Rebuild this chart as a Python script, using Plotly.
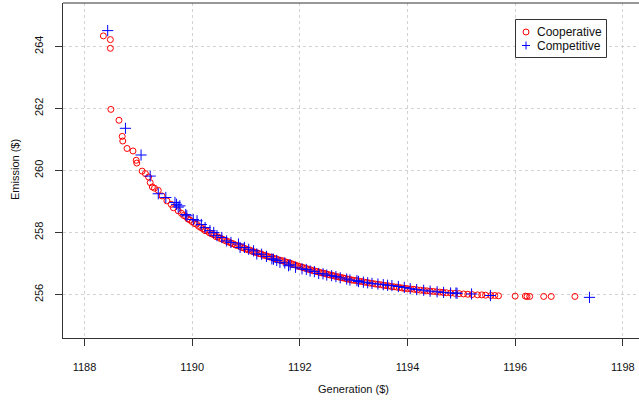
import plotly.graph_objects as go

# ---------------- data ----------------
coop_x = [1188.35, 1188.48, 1188.48, 1188.49, 1188.64, 1188.70, 1188.71, 1188.79, 1188.90, 1188.96,
          1188.97, 1189.07, 1189.13, 1189.19, 1189.22, 1189.26, 1189.30, 1189.37, 1189.44, 1189.53,
          1189.61, 1189.65, 1189.74,
          1189.80, 1189.84, 1189.88, 1189.92, 1189.96, 1190.00, 1190.04, 1190.08, 1190.12, 1190.16,
          1190.20, 1190.24, 1190.28, 1190.32, 1190.36, 1190.40, 1190.44, 1190.48, 1190.52, 1190.56,
          1190.60, 1190.64, 1190.68, 1190.72, 1190.76, 1190.80, 1190.84, 1190.88, 1190.92, 1190.96,
          1191.00, 1191.04, 1191.08, 1191.12, 1191.16, 1191.20, 1191.24, 1191.28, 1191.32, 1191.36,
          1191.40, 1191.44, 1191.48, 1191.52, 1191.56, 1191.60, 1191.64, 1191.68, 1191.72, 1191.76,
          1191.80, 1191.84, 1191.88, 1191.92, 1191.96, 1192.00, 1192.04, 1192.08, 1192.12, 1192.16,
          1192.20, 1192.24, 1192.28, 1192.32, 1192.36, 1192.40, 1192.44, 1192.48, 1192.52, 1192.56,
          1192.60, 1192.64, 1192.68, 1192.72, 1192.76, 1192.80, 1192.84, 1192.88, 1192.92, 1192.96,
          1193.00, 1193.05, 1193.10, 1193.15, 1193.20, 1193.25, 1193.30, 1193.35, 1193.40, 1193.45,
          1193.50, 1193.55, 1193.60, 1193.65, 1193.70, 1193.75, 1193.80, 1193.85, 1193.90, 1193.95,
          1194.00, 1194.06, 1194.12, 1194.18, 1194.24, 1194.30, 1194.36, 1194.42, 1194.48, 1194.54,
          1194.60, 1194.66, 1194.72, 1194.80, 1194.88, 1194.96, 1195.04, 1195.12, 1195.20, 1195.30,
          1195.38, 1195.45, 1195.55, 1195.62, 1195.69, 1196.00, 1196.19, 1196.22, 1196.27, 1196.53,
          1196.67, 1197.11]
coop_y = [264.34, 264.22, 263.94, 261.97, 261.62, 261.10, 260.95, 260.71, 260.63, 260.33,
          260.24, 259.98, 259.90, 259.79, 259.61, 259.47, 259.43, 259.36, 259.18, 259.02,
          258.91, 258.80, 258.70,
          258.62, 258.55, 258.52, 258.44, 258.40, 258.35, 258.29, 258.27, 258.20, 258.16,
          258.12, 258.06, 258.05, 257.99, 257.96, 257.93, 257.87, 257.86, 257.81, 257.79,
          257.75, 257.72, 257.70, 257.66, 257.64, 257.60, 257.58, 257.56, 257.52, 257.50,
          257.47, 257.44, 257.43, 257.39, 257.37, 257.35, 257.32, 257.31, 257.27, 257.26,
          257.23, 257.21, 257.20, 257.16, 257.15, 257.12, 257.10, 257.09, 257.06, 257.04,
          257.02, 257.00, 256.97, 256.95, 256.92, 256.90, 256.88, 256.86, 256.84, 256.81,
          256.80, 256.77, 256.76, 256.74, 256.72, 256.70, 256.69, 256.67, 256.65, 256.63,
          256.62, 256.60, 256.58, 256.57, 256.55, 256.54, 256.52, 256.50, 256.49, 256.47,
          256.46, 256.45, 256.43, 256.42, 256.40, 256.39, 256.37, 256.36, 256.34, 256.33,
          256.32, 256.30, 256.29, 256.28, 256.26, 256.25, 256.24, 256.23, 256.21, 256.20,
          256.19, 256.18, 256.17, 256.15, 256.14, 256.13, 256.12, 256.11, 256.10, 256.09,
          256.08, 256.07, 256.06, 256.05, 256.04, 256.03, 256.02, 256.01, 256.00, 255.99,
          255.99, 255.98, 255.97, 255.97, 255.96, 255.95, 255.95, 255.94, 255.94, 255.94,
          255.94, 255.94]

comp_x = [1188.43, 1188.76, 1189.05, 1189.22, 1189.37, 1189.51, 1189.68, 1189.71, 1189.74, 1189.77,
          1189.88, 1189.90, 1190.02, 1190.09, 1190.17, 1190.24, 1190.33, 1190.40, 1190.46, 1190.55,
          1190.64, 1190.72, 1190.86, 1190.89, 1190.97, 1191.05, 1191.14, 1191.20, 1191.29, 1191.38,
          1191.48, 1191.51, 1191.57, 1191.63, 1191.72, 1191.79, 1191.82, 1191.92, 1192.04, 1192.12,
          1192.19, 1192.27, 1192.35, 1192.43, 1192.50, 1192.59, 1192.67, 1192.75, 1192.87, 1192.93,
          1193.06, 1193.09, 1193.18, 1193.26, 1193.34, 1193.45, 1193.55, 1193.63, 1193.71, 1193.83,
          1193.94, 1194.05, 1194.17, 1194.30, 1194.42, 1194.55, 1194.67, 1194.80, 1194.90, 1194.92,
          1195.19, 1195.54, 1197.38]
comp_y = [264.51, 261.36, 260.50, 259.82, 259.25, 259.13, 258.97, 258.91, 258.82, 258.86,
          258.58, 258.54, 258.42, 258.38, 258.26, 258.16, 258.06, 258.00, 257.90, 257.84,
          257.73, 257.68, 257.63, 257.52, 257.52, 257.46, 257.41, 257.31, 257.30, 257.23,
          257.15, 257.14, 257.10, 257.04, 257.02, 256.93, 256.96, 256.88, 256.83, 256.81,
          256.76, 256.74, 256.68, 256.67, 256.63, 256.61, 256.58, 256.54, 256.50, 256.47,
          256.45, 256.42, 256.40, 256.38, 256.36, 256.34, 256.32, 256.30, 256.29, 256.26,
          256.23, 256.19, 256.16, 256.14, 256.11, 256.09, 256.07, 256.05, 256.05, 256.04,
          256.02, 255.97, 255.91]

series_names = ["Cooperative", "Competitive"]
x_ticks = [1188, 1190, 1192, 1194, 1196, 1198]
y_ticks = [256, 258, 260, 262, 264]
x_title = "Generation ($)"
y_title = "Emission ($)"

FONT = "Liberation Sans, Arial, sans-serif"
RED = "#FF0000"
BLUE = "#0000FF"

# plot area in page pixels
L, R, T, B = 63, 639, 3, 338


def px(xp):
    return (xp - L) / (R - L)


def py(yp):
    return (B - yp) / (B - T)


fig = go.Figure()
fig.add_trace(go.Scatter(
    x=coop_x, y=coop_y, mode="markers", name=series_names[0], showlegend=False,
    marker=dict(symbol="circle-open", size=6, color=RED, line=dict(width=1, color=RED))))
fig.add_trace(go.Scatter(
    x=comp_x, y=comp_y, mode="markers", name=series_names[1], showlegend=False,
    marker=dict(symbol="cross-thin-open", size=8, color=BLUE, line=dict(width=1, color=BLUE))))

# legend box (drawn above the grid)
fig.add_shape(type="rect", xref="paper", yref="paper", x0=px(515.5), x1=px(606.5),
              y0=py(57.5), y1=py(19.5), line=dict(color="#333333", width=1),
              fillcolor="white", layer="above")
fig.add_shape(type="circle", xref="paper", yref="paper", x0=px(523), x1=px(529),
              y0=py(35), y1=py(29), line=dict(color=RED, width=1), layer="above")
fig.add_shape(type="line", xref="paper", yref="paper", x0=px(522), x1=px(530),
              y0=py(45.5), y1=py(45.5), line=dict(color=BLUE, width=1), layer="above")
fig.add_shape(type="line", xref="paper", yref="paper", x0=px(526), x1=px(526),
              y0=py(49.5), y1=py(41.5), line=dict(color=BLUE, width=1), layer="above")
for name, yy in zip(series_names, [32, 45.5]):
    fig.add_annotation(x=px(535), y=py(yy), xref="paper", yref="paper", text=name, showarrow=False,
                       xanchor="left", yanchor="middle", font=dict(family=FONT, size=12, color="#111111"))

# top border of the box
fig.add_shape(type="line", xref="paper", yref="paper", x0=0, x1=1, y0=1, y1=1,
              line=dict(color="#333333", width=1))

# axis titles (paper coordinates)
fig.add_annotation(x=px(353), y=py(389), xref="paper", yref="paper",
                   text=x_title, showarrow=False, xanchor="center", yanchor="middle",
                   font=dict(family=FONT, size=11, color="#111111"))
fig.add_annotation(x=px(15), y=py(170), xref="paper", yref="paper",
                   text=y_title, showarrow=False, textangle=-90, xanchor="center", yanchor="middle",
                   font=dict(family=FONT, size=11, color="#111111"))

axis_common = dict(showgrid=True, gridcolor="#D3D3D3", griddash="dot", gridwidth=1,
                   zeroline=False, showline=True, linecolor="#333333", linewidth=1,
                   ticks="outside", ticklen=7, tickcolor="#333333", mirror=False,
                   tickfont=dict(family=FONT, size=11, color="#111111"))

fig.update_layout(
    width=639, height=402,
    margin=dict(l=L, r=639 - R, t=T, b=402 - B, autoexpand=False),
    paper_bgcolor="white", plot_bgcolor="white",
    xaxis=dict(range=[1187.6, 1187.6 + (R - L) / 53.83], tickvals=x_ticks,
               ticklabelstandoff=12, **axis_common),
    yaxis=dict(range=[254.6, 265.4], tickvals=y_ticks, tickangle=-90,
               ticklabelstandoff=8, **axis_common),
)

fig.write_html("out.html", config={"displayModeBar": False},
               post_script="document.body.style.margin='0';document.body.style.overflow='hidden';")
